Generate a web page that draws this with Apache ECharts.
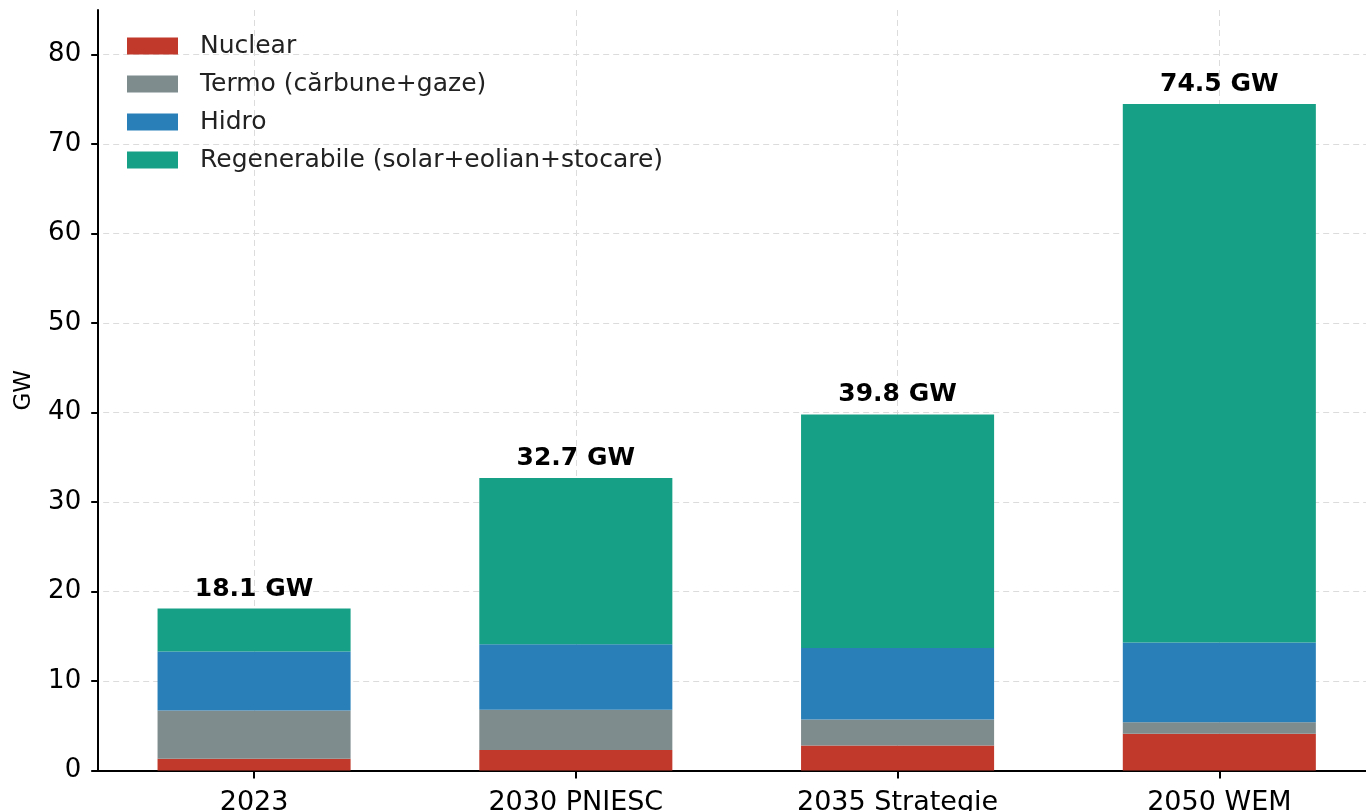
<!DOCTYPE html>
<html>
<head>
<meta charset="utf-8">
<script src="https://cdn.jsdelivr.net/npm/echarts@6/dist/echarts.min.js"></script>
<style>
  html, body { margin: 0; padding: 0; background: #fff; overflow: hidden; }
  #chart { width: 1366px; height: 811px; }
</style>
</head>
<body>
<div id="chart"></div>
<script>
const categories = ['2023', '2030 PNIESC', '2035 Strategie', '2050 WEM'];
const nuclear = [1.3, 2.3, 2.8, 4.1];
const termo = [5.4, 4.5, 2.9, 1.3];
const hidro = [6.6, 7.3, 8.0, 8.9];
const regenerabile = [4.8, 18.6, 26.1, 60.2];
const totals = [18.1, 32.7, 39.8, 74.5];
const yTicks = [0, 10, 20, 30, 40, 50, 60, 70, 80];

const seriesNames = ['Nuclear', 'Termo (cărbune+gaze)', 'Hidro', 'Regenerabile (solar+eolian+stocare)'];
const seriesColors = ['#c0392b', '#7f8c8d', '#2980b9', '#16a085'];
const seriesData = [nuclear, termo, hidro, regenerabile];

const font = 'DejaVu Sans';
const chart = echarts.init(document.getElementById('chart'), null, { renderer: 'canvas' });

const series = seriesData.map((d, i) => ({
  name: seriesNames[i],
  type: 'bar',
  stack: 'total',
  data: d,
  barWidth: '60%',
  itemStyle: { color: seriesColors[i] },
  emphasis: { disabled: true },
  label: i === 3 ? {
    show: true,
    position: 'top',
    distance: 7,
    formatter: p => totals[p.dataIndex].toFixed(1) + ' GW',
    fontFamily: font,
    fontWeight: 'bold',
    fontSize: 25,
    color: '#000'
  } : { show: false },
  z: 3
}));

chart.setOption({
  animation: false,
  backgroundColor: '#fff',
  textStyle: { fontFamily: font },
  grid: { left: 93.2, width: 1287, top: 10, bottom: 40.5, containLabel: false, outerBoundsMode: 'none' },
  legend: {
    orient: 'vertical',
    left: 122,
    top: 28,
    itemWidth: 51,
    itemHeight: 17,
    itemGap: 12,
    icon: 'rect',
    data: seriesNames,
    textStyle: { fontFamily: font, fontSize: 25, color: '#222', lineHeight: 26, padding: [0, 0, 0, 17] }
  },
  xAxis: {
    type: 'category',
    data: categories,
    boundaryGap: true,
    axisLine: { show: true, lineStyle: { color: '#000', width: 2 } },
    axisTick: { show: true, alignWithLabel: true, interval: 0, length: 8, lineStyle: { color: '#000', width: 2 } },
    axisLabel: { interval: 0, margin: 19, fontFamily: font, fontSize: 27, color: '#000' },
    splitLine: { show: true, alignWithLabel: true, interval: 0, lineStyle: { color: '#dcdcdc', type: [6, 4], width: 1 } }
  },
  yAxis: {
    type: 'value',
    min: 0,
    max: 85,
    interval: 10,
    offset: -5,
    name: 'GW',
    nameLocation: 'middle',
    nameGap: 63,
    nameRotate: 90,
    nameTextStyle: { fontFamily: font, fontSize: 23, color: '#000' },
    axisLine: { show: true, lineStyle: { color: '#000', width: 2 } },
    axisTick: { show: true, length: 7, customValues: yTicks, lineStyle: { color: '#000', width: 2 } },
    axisLabel: { margin: 17, customValues: yTicks, fontFamily: font, fontSize: 26, color: '#000' },
    splitLine: { show: true, lineStyle: { color: '#dcdcdc', type: [6, 4], width: 1 } }
  },
  series: series
});
</script>
</body>
</html>
